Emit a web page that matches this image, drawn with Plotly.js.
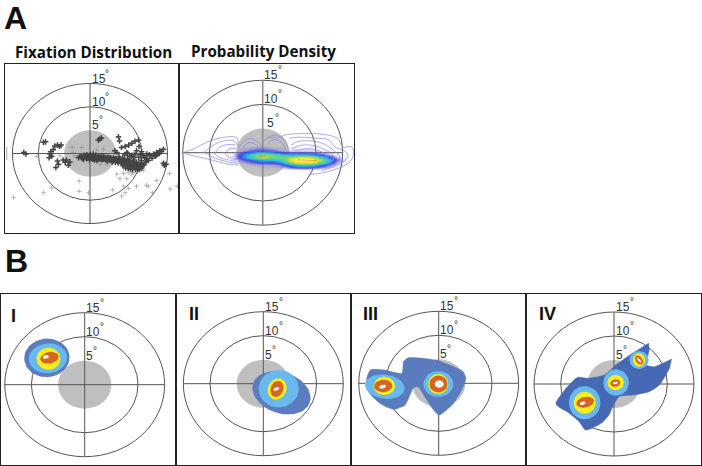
<!DOCTYPE html>
<html><head><meta charset="utf-8">
<script src="https://cdn.plot.ly/plotly-3.0.1.min.js"></script>
<style>html,body{margin:0;padding:0;background:#fff}#c{width:702px;height:466px}</style></head>
<body><div id="c"></div>
<script>
// ---- data (all in degrees of visual angle) ----
const ringDegrees = [15, 10];
const foveaDegrees = 5;
const tickLabels = ['15', '10', '5'];
const titles = ['Fixation Distribution', 'Probability Density'];
const panelNames = ['I', 'II', 'III', 'IV'];

const darkX = [-12.8,-12.4,-9,-8.6,-6.8,-6.3,-5.9,-5.6,-7.1,-7.6,-7.7,-7.4,-7.9,-6.6,-6.1,-6.3,-4.8,-4.2,-3.9,-5.2,-4.6,
 1.9,2.2,1.6,5.5,5.7,4.8,5.2,6.1,6.8,7.5,8.1,8.7,9.4,9.5,
 -2.2,-1.8,-1.5,-1.2,-1.3,-0.9,-0.6,-0.7,-0.3,-0.1,0,0.2,0.3,0.5,0.6,0.8,0.9,1.1,1.2,1.3,1.5,1.6,1.8,2,2.1,2.3,2.5,2.7,2.6,2.9,3.1,3.3,3.5,3.4,3.7,3.9,4.1,4,4.3,4.5,4.7,4.6,4.9,5.1,5.3,5,5.5,5.7,5.9,5.6,6.1,6.3,6.2,6.5,6.7,6.9,6.6,7.1,7.3,7,7.5,7.7,7.4,7.9,8.1,7.8,8.3,8.5,8.2,8.7,8.9,8.6,9.1,9.3,9,9.5,9.7,9.2,9.9,10.1,
 10.3,11,11.6,12.3,12.9,13.5,14.2,11,10,9,7.1,8.1,8.4,9.4,9.8,10.6,11.3,12.6,13.1,13.8,10.8,8.7,7.7,14.7,14.2,14.4,
 -1.9,-1.1,-0.5,-0.2,0.4,0.7,1,1.4,1.7,2.2,2.4,2.8,3,3.2,3.6,3.8,4.2,4.4,4.8,5.2,5.4,5.8,6,6.4,6.8,7.2,7.6,8,8.4,8.8,9.4,9.6,9.8,
 -0.8,0.1,1,1.9,6.4,7.6,8.6,9.2,8,6.9,10.4,10.7,
 6.9,7.4,7.8,8.2,8.8,9.2,9.6,10,8.5,9.9,7.2,6.3,5.6,11.5,12,12.8,13.4,6.7,7.3,8];
const darkY = [0.2,-0.1,2.4,2.5,1.6,1.8,1.5,1.8,0.8,0.4,-0.1,-0.6,-0.9,-3,-2.3,-1.6,-1.9,-2.5,-1.8,-1.4,-1.4,
 3.1,3.3,2.9,3.6,2.7,0.6,0.2,1.3,1.5,1.8,2.2,2.6,2.9,1.5,
 -0.9,-0.6,-1,-0.4,-1.3,-0.8,-0.3,-1.1,-0.7,-1.4,-0.2,-1,-0.5,-1.2,-0.1,-0.8,-1.4,-0.4,-1,-1.5,-0.6,-1.2,-0.8,-1.1,-0.5,-1.4,-0.9,-1.2,-0.6,-1,-1.4,-0.8,-1.1,-1.6,-1.3,-0.9,-1.5,-1.1,-1.8,-1.2,-1.5,-0.9,-1.9,-1.3,-1.6,-1.1,-2,-1.4,-1.7,-1.1,-2.1,-1.5,-1.8,-2.3,-1.6,-2,-1.3,-2.4,-1.7,-2.1,-1.9,-2.5,-1.5,-2.2,-2.7,-1.8,-2.4,-2.9,-2,-2.6,-3,-2.2,-2.7,-3.1,-1.9,-2.4,-2.8,-3.2,-2.1,-2.6,
 -0.5,-1.2,-0.5,-0.1,0.2,0.6,0.9,-0.1,0.4,0.6,0.2,-0.4,-0.9,-0.8,-0.2,-0.9,-1.5,-0.6,-0.1,0.4,-1.9,-0.3,-0.7,-2.3,-2.1,-2.5,
 -0.6,-0.8,-1,-0.7,-0.7,-1.2,-0.6,-0.9,-1.2,-0.8,-1.2,-0.8,-1.2,-1.1,-0.9,-1.4,-1.1,-1.5,-1.4,-1.3,-1.8,-1.5,-1.9,-1.6,-1.9,-2.1,-2.2,-2.1,-2.5,-2.3,-2.5,-2.9,-2.3,
 -0.5,-0.5,-0.9,-1,-2.6,-2.9,-2.8,-2.2,-3,-2.6,-2.4,-1.9,
 -3.1,-3.2,-3.3,-3.4,-3.4,-3.5,-3.4,-3.1,-1.4,-1.5,-1.2,-1,-0.7,-0.3,-1,-0.4,0,-0.3,0,-0.5];

const lightX = [-14.8,-9,-7.4,-2.1,-2.1,-0.3,4.4,6.1,6.8,7.4,6.5,9,10.9,11.3,12.9,12.1,15.5,16.9,15.4,10.3,7.4,6.5,5.8,7.1,8.1,5.2,2.6,1.3,-3.2,-3.5,-1.6,-1.9,-2.9,-10.3,-5.8,14.2,4.5,3.2,1.9,6.5,8.4];
const lightY = [-9.4,-8.4,-7.4,-5.9,-8.1,-8.4,-7.8,-9.1,-8.4,-7.5,-7,-7,-6.8,-7,-5.8,-8.4,-7.6,-7,-4.3,-3.6,-4.1,-4.3,-5.4,-5.4,-4.4,-4.4,0.9,0.7,0.2,1.3,1.3,-0.9,-0.5,-0.6,-0.5,-2.5,-1.9,-2.3,-2.3,-3,-4.1];
const edgeX = [-16.1];
const edgeY = [0];

const densityX = [-6,-5,-4,-3,-2,-1,0,1,2,3,4,5,6,7,8,9,10,11,12,13,14,15,16];
const densityY = [1,0.5,0,-0.5,-1,-1.5,-2,-2.5,-3,-3.5];
const densityZ = [
 [0,0,0.01,0.02,0.03,0.04,0.04,0.03,0.02,0.01,0.01,0.01,0.01,0.01,0.01,0.01,0,0,0,0,0,0,0],
 [0,0.01,0.03,0.06,0.09,0.11,0.12,0.10,0.08,0.05,0.03,0.03,0.03,0.03,0.03,0.03,0.02,0.01,0.01,0,0,0,0],
 [0,0.03,0.09,0.17,0.24,0.30,0.32,0.30,0.24,0.17,0.13,0.11,0.10,0.10,0.10,0.09,0.07,0.05,0.03,0.01,0,0,0],
 [0.01,0.06,0.16,0.28,0.42,0.54,0.60,0.58,0.50,0.42,0.36,0.32,0.30,0.30,0.30,0.27,0.20,0.13,0.07,0.03,0.01,0,0],
 [0.01,0.06,0.16,0.28,0.40,0.50,0.58,0.56,0.50,0.48,0.52,0.60,0.70,0.78,0.80,0.76,0.58,0.40,0.25,0.13,0.05,0.01,0],
 [0,0.02,0.07,0.13,0.20,0.26,0.30,0.30,0.30,0.36,0.46,0.66,0.90,1,1,0.94,0.80,0.60,0.38,0.22,0.09,0.03,0],
 [0,0.01,0.02,0.04,0.07,0.10,0.12,0.12,0.13,0.18,0.28,0.48,0.66,0.76,0.76,0.72,0.60,0.44,0.28,0.14,0.05,0.01,0],
 [0,0,0,0.01,0.02,0.03,0.03,0.03,0.04,0.06,0.11,0.20,0.30,0.36,0.36,0.34,0.28,0.20,0.12,0.06,0.02,0,0],
 [0,0,0,0,0,0,0.01,0.01,0.01,0.02,0.04,0.07,0.10,0.12,0.12,0.11,0.09,0.06,0.03,0.01,0,0,0],
 [0,0,0,0,0,0,0,0,0,0,0,0,0,0,0,0,0,0,0,0,0,0,0]];
const densityCoreX = [[-0.8,0.6],[6.5,8,10.2]];
const densityCoreY = [[-0.72,-0.72],[-1.5,-1.55,-1.6]];

const contourLines = [
 [[-15,-12.75,-10.25,-7.75,-4.9,-4.6],[0,0.9,2.3,3.1,3.1,1.2]],
 [[-15,-12.75,-9.6,-6.5,-4.6],[0,-0.7,-1.5,-2.35,-2.55]],
 [[-11,-9.5,-7.5,-5.5,-4.6],[0.1,1.4,2.4,2.5,1.5]],
 [[-11,-9,-6.5,-4.6],[0.1,-1.1,-1.9,-2.2]],
 [[-9,-8,-6.5,-5],[-0.2,1.2,1.7,1.6]],
 [[-9,-8.3,-6.8,-5],[-0.2,-0.9,-1.4,-1.8]],
 [[-7,-6.4,-5],[-0.3,0.7,0.9]],
 [[-7,-6.2,-4.8],[-0.3,-1,-1.5]],
 [[-4.5,-3.3,-2,-1,0],[1,2.6,2.9,2.3,1.3]],
 [[-3.8,-3,-2,-1.2,-0.6],[0.9,1.9,2.1,1.6,1]],
 [[0.6,1.9,3.2,4.1,4.8],[2.9,3.6,3.3,2.6,1]],
 [[1,2,3,3.8,4.3],[2,2.7,2.5,1.8,0.9]],
 [[0.2,1.5,3,4,6,10.5,14,15,16.7,17,16,13.5,11,9],[2.5,3.2,3,3.6,3.9,3.9,3,1.2,1.2,-0.5,-2.2,-3.5,-4.2,-4.5]],
 [[5,6.5,10,12.5,13.5,15.5,16,15,13,11],[3,3.2,3,2.6,1.2,0.3,-0.7,-2,-3,-3.7]],
 [[5.3,6.5,10,12,13.5,14.5,14,12.5],[1.5,2.3,2.3,1.5,0.3,-0.8,-2,-2.8]],
 [[5.5,7,9.5,11.5,13,13.3,12.5],[0.8,1.5,1.5,0.7,-0.3,-1.3,-2.4]],
 [[6,9,11,12,12.2],[0.4,0.8,0.2,-0.7,-1.8]]
];

// blob outlines for panels III and IV
const blobIIIx = [-6.6,-5.7,-2.9,-0.1,2.1,4.6,5.1,4.3,2.75,0.1,-1,-2.6,-3.9,-4.75,-6.3,-8.5,-11,-13.2,-13.5,-12.75,-10.4,-6.9];
const blobIIIy = [4.5,5.3,5.2,4.7,3.8,2.4,1,-1.4,-4.2,-6.6,-5.5,-2.8,-0.7,-1,-4.5,-5.4,-4.2,-1.7,1,2.8,2.8,2.1];
const blobIVx = [-10.9,-9,-6.8,-4.9,-1.8,0.4,2.9,6.5,6.5,6.6,6,7.6,10.8,10.8,10.4,8.5,6.6,3.5,1,-0.1,-0.9,-2.4,-5.3,-6.5,-8.4,-10.6];
const blobIVy = [-4,-0.9,1.4,1.2,1.9,4,6,8.5,8.5,7.1,4,3.6,5.2,5.2,3.3,-0.2,-1.6,-2.3,-2.6,-4.4,-6.4,-8.2,-9.6,-7.9,-6.1,-4.6];

// contour regions: [panel, centre x, centre y, radius x, radius y, tilt, colour index]
const regions = [
 [0,-7.1,5.6,4.25,4,10,0],[0,-6.9,5.5,3.6,3.1,10,1],[0,-6.8,5.4,2.25,2.3,0,2],[0,-6.6,5.6,1.75,1.2,15,3],[0,-7.3,5.8,0.6,0.4,15,4],
 [1,3.4,-1.9,5.7,4.2,-25,0],[1,2.9,-1.05,3.75,3.9,0,1],[1,2.6,-1.1,1.75,2.25,-15,2],[1,2.56,-1.1,1.2,1.7,-15,3],[1,2.44,-1.1,0.6,0.35,20,4],
 [2,-10.1,-0.7,3.75,2.5,-10,1],[2,-10.2,-0.55,2,1.9,0,2],[2,-10.4,-0.55,1.7,1.3,5,3],[2,-10.5,-0.7,0.7,0.4,15,4],
 [2,-0.05,-0.15,2.8,2.7,0,1],[2,-0.1,-0.15,1.9,2.1,0,2],[2,-0.05,-0.15,1.7,1.75,0,3],[2,0.1,-0.15,0.85,0.8,0,4],
 [3,-5.5,-3.9,2.95,3.45,0,1],[3,-5.5,-3.9,2.05,2.3,0,2],[3,-5.4,-3.8,1.7,1.1,15,3],[3,-5.9,-4,0.55,0.35,20,4],
 [3,0.4,0.3,2.4,2.75,0,1],[3,0.3,0.3,1.55,1.6,0,2],[3,0.25,0.2,0.95,0.8,15,3],[3,0.25,0.2,0.5,0.25,15,4],
 [3,4.7,5,1.8,1.85,0,1],[3,4.7,5,1.15,1.4,0,2],[3,4.7,5,0.65,1.05,30,3],[3,4.7,5,0.22,0.7,35,4]
];
const regionColors = ['#5b7cbe','#69b9ef','#f6ee1d','#d8651f','#ffffff'];
const blobColors = ['#5a7bbd','#4669b5'];

// ---- layout geometry (px) ----
const W=702,H=466;
const geom = [
 {b:[5,64,179,233],c:[90,153.5],s:[5.17,4.67]},
 {b:[179,64,354,233],c:[262.7,152.7],s:[5.33,4.83]},
 {b:[1,294,176,465],c:[84.7,384.7],s:[5.33,4.8]},
 {b:[176,294,351,465],c:[263.3,383.7],s:[5.33,4.8]},
 {b:[351,294,526,465],c:[438.7,383.3],s:[5.33,4.8]},
 {b:[526,294,701,465],c:[614,384],s:[5.33,4.8]}
];
const ax = i => i===0?'':String(i+1);
const layout = {width:W,height:H,margin:{l:0,r:0,t:0,b:0},paper_bgcolor:'#fff',plot_bgcolor:'#fff',showlegend:false,shapes:[],annotations:[]};
const traces = [];
const ink='#555';
geom.forEach((g,i)=>{
  const [x0,y0,x1,y1]=g.b, [cx,cy]=g.c, [sx,sy]=g.s;
  const base={showgrid:false,zeroline:false,showticklabels:false,ticks:'',showline:true,mirror:true,linecolor:'#222',linewidth:1.2,fixedrange:true};
  layout['xaxis'+ax(i)]=Object.assign({},base,{domain:[x0/W,x1/W],range:[(x0-cx)/sx,(x1-cx)/sx],anchor:'y'+ax(i)});
  layout['yaxis'+ax(i)]=Object.assign({},base,{domain:[1-y1/H,1-y0/H],range:[(cy-y1)/sy,(cy-y0)/sy],anchor:'x'+ax(i)});
  const xr='x'+ax(i), yr='y'+ax(i);
  layout.shapes.push({type:'circle',layer:'below',xref:xr,yref:yr,x0:-foveaDegrees,x1:foveaDegrees,y0:-foveaDegrees,y1:foveaDegrees,fillcolor:'#bfbfbf',line:{width:0}});
  ringDegrees.forEach(r=>layout.shapes.push({type:'circle',layer:'below',xref:xr,yref:yr,x0:-r,x1:r,y0:-r,y1:r,line:{color:ink,width:1}}));
  layout.shapes.push({type:'line',layer:'below',xref:xr,yref:yr,x0:-15,x1:15,y0:0,y1:0,line:{color:ink,width:1}});
  layout.shapes.push({type:'line',layer:'below',xref:xr,yref:yr,x0:0,x1:0,y0:-15,y1:15,line:{color:i===1?'#888':ink,width:i===1?1.5:1}});
  [15,10,5].forEach((d,k)=>{
    const t=(i===1&&d===5)?0.7:0.1;
    layout.annotations.push({xref:xr,yref:yr,x:t,y:d+1.05,xanchor:'left',yanchor:'middle',showarrow:false,borderpad:0,
     text:tickLabels[k],font:{family:'Liberation Sans',size:12,color:'#333'}});
    layout.annotations.push({xref:xr,yref:yr,x:t+(d===5?1.35:2.65),y:d+2.2,xanchor:'left',yanchor:'middle',showarrow:false,borderpad:0,
     text:'°',font:{family:'Liberation Sans',size:10,color:'#333'}});
  });
});
// panel A
traces.push({type:'scatter',mode:'markers',x:edgeX,y:edgeY,xaxis:'x',yaxis:'y',hoverinfo:'skip',
  marker:{symbol:'line-ns',size:9,line:{width:1,color:'#aaa'}}});
traces.push({type:'scatter',mode:'markers',x:lightX,y:lightY,xaxis:'x',yaxis:'y',hoverinfo:'skip',
  marker:{symbol:'cross-thin',size:3.6,line:{width:0.6,color:'#8f8f8f'}}});
traces.push({type:'scatter',mode:'markers',x:darkX,y:darkY,xaxis:'x',yaxis:'y',hoverinfo:'skip',
  marker:{symbol:'cross-thin',size:4,line:{width:1.5,color:'#444'}}});
contourLines.forEach(l=>traces.push({type:'scatter',mode:'lines',x:l[0],y:l[1],xaxis:'x2',yaxis:'y2',hoverinfo:'skip',
  line:{color:'#8686e2',width:0.7,shape:'spline'}}));
traces.push({type:'heatmap',x:densityX,y:densityY,z:densityZ,xaxis:'x2',yaxis:'y2',zsmooth:'best',showscale:false,zmin:0,zmax:1,hoverinfo:'skip',
  colorscale:[[0,'rgba(120,110,240,0)'],[0.03,'rgba(120,110,240,0.3)'],[0.07,'rgba(90,80,232,0.7)'],[0.13,'rgba(55,65,228,0.95)'],[0.2,'#2f7ce8'],[0.3,'#32bce0'],[0.42,'#48d2a8'],[0.55,'#8cd85c'],[0.7,'#e2e030'],[0.85,'#ffe830'],[1,'#fff8b0']]});
densityCoreX.forEach((c,k)=>traces.push({type:'scatter',mode:'lines',x:c,y:densityCoreY[k],xaxis:'x2',yaxis:'y2',hoverinfo:'skip',line:{color:'#e0902a',width:0.8}}));
// panel B blobs
const blobAxis = [[blobIIIx,blobIIIy,'x5','y5',0],[blobIVx,blobIVy,'x6','y6',1]];
blobAxis.forEach(b=>traces.push({type:'scatter',mode:'lines',x:b[0].concat(b[0][0]),y:b[1].concat(b[1][0]),xaxis:b[2],yaxis:b[3],fill:'toself',
  fillcolor:blobColors[b[4]],hoverinfo:'skip',line:{color:blobColors[b[4]],width:0.5,shape:'spline',smoothing:0.6}}));
regions.forEach(r=>{
  const [p,ex,ey,rx,ry,tilt,ci]=r, t=tilt*Math.PI/180, xs=[], ys=[];
  for(let a=0;a<=48;a++){const u=a/48*2*Math.PI, c=Math.cos(u)*rx, s=Math.sin(u)*ry;
    xs.push(ex+c*Math.cos(t)-s*Math.sin(t)); ys.push(ey+c*Math.sin(t)+s*Math.cos(t));}
  const n=String(p+3);
  traces.push({type:'scatter',mode:'lines',x:xs,y:ys,xaxis:'x'+n,yaxis:'y'+n,fill:'toself',fillcolor:regionColors[ci],hoverinfo:'skip',line:{width:0,color:regionColors[ci]}});
});
// headings
const pa=(px,py,text,size,anchor)=>layout.annotations.push({xref:'paper',yref:'paper',x:px/W,y:1-py/H,text,xanchor:anchor||'center',yanchor:'middle',showarrow:false,
   font:{family:'Open Sans',size,color:'#111',weight:700}});
pa(93,52,titles[0],15.2); pa(263.7,51,titles[1],15.2);
const pb=(px,py,text,size)=>layout.annotations.push({xref:'paper',yref:'paper',x:px/W,y:1-py/H,text,xanchor:'left',yanchor:'middle',showarrow:false,
   font:{family:'Liberation Sans',size,color:'#111',weight:700}});
pb(2,18,'A',32); pb(3,260.5,'B',32);
pb(9,316,panelNames[0],18); pb(187,314,panelNames[1],18); pb(361,314,panelNames[2],18); pb(537,314,panelNames[3],18);
Plotly.newPlot('c',traces,layout,{staticPlot:true,displayModeBar:false});
</script></body></html>
